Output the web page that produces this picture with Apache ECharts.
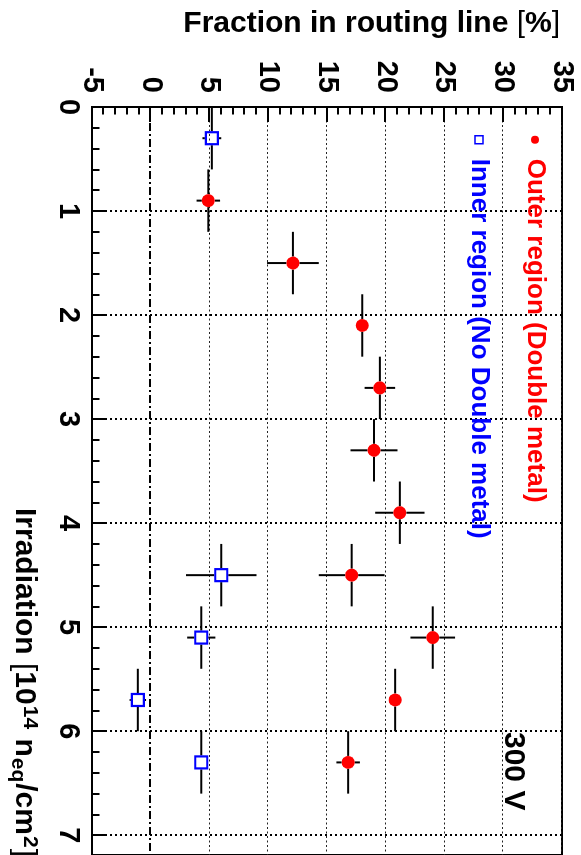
<!DOCTYPE html>
<html>
<head>
<meta charset="utf-8">
<script src="https://cdn.jsdelivr.net/npm/echarts@6/dist/echarts.min.js"></script>
<style>
  html, body { margin: 0; padding: 0; width: 581px; height: 855px; overflow: hidden; background: #fff; }
  /* The plot is laid out landscape and turned a quarter turn clockwise onto the page */
  #chart { position: absolute; left: 0; top: 0; width: 855px; height: 581px;
           transform-origin: 0 0; transform: translate(581px, 0) rotate(90deg); }
</style>
</head>
<body>
<div id="chart"></div>
<script>
// Irradiation fluence [1e14 neq/cm2] and fraction of signal in the routing line [%]
const outerIrr     = [0.9, 1.5, 2.1, 2.7, 3.3, 3.9, 4.5, 5.1, 5.7, 6.3];
const outerIrrErr  = [0.3, 0.3, 0.3, 0.3, 0.3, 0.3, 0.3, 0.3, 0.3, 0.3];
const outerFrac    = [4.9, 12.1, 18.0, 19.5, 19.0, 21.2, 17.1, 24.0, 20.8, 16.8];
const outerFracErr = [1.0, 2.2, 0.4, 1.3, 2.0, 2.1, 2.8, 1.9, 0.4, 1.0];

const innerIrr     = [0.3, 4.5, 5.1, 5.7, 6.3];
const innerIrrErr  = [0.3, 0.3, 0.3, 0.3, 0.3];
const innerFrac    = [5.2, 6.0, 4.3, -1.1, 4.3];
const innerFracErr = [0.8, 3.0, 1.2, 0.7, 0.4];

const irrTicks  = [0, 1, 2, 3, 4, 5, 6, 7];
const fracTicks = [-5, 0, 5, 10, 15, 20, 25, 30, 35];

const outerName = 'Outer region (Double metal)';
const innerName = 'Inner region (No Double metal)';
const voltage = '300 V';

const FONT = '"Liberation Sans", Arial, Helvetica, sans-serif';
const RED = '#ff0000';
const BLUE = '#0000ff';
const TICK = '#000';

// Error bars start at the marker edge so open markers stay empty
function errorSeries(irr, irrErr, frac, fracErr, half) {
  return {
    type: 'custom',
    clip: true,
    z: 3,
    silent: true,
    data: irr.map((x, i) => [x, frac[i], irrErr[i], fracErr[i]]),
    renderItem(params, api) {
      const x = api.value(0), y = api.value(1), ex = api.value(2), ey = api.value(3);
      const c = api.coord([x, y]);
      const l = api.coord([x - ex, y]), r = api.coord([x + ex, y]);
      const t = api.coord([x, y + ey]), b = api.coord([x, y - ey]);
      const style = { stroke: '#000', lineWidth: 2 };
      const kids = [];
      if (c[0] - l[0] > half) kids.push({ type: 'line', shape: { x1: l[0], y1: c[1], x2: c[0] - half, y2: c[1] }, style });
      if (r[0] - c[0] > half) kids.push({ type: 'line', shape: { x1: c[0] + half, y1: c[1], x2: r[0], y2: c[1] }, style });
      if (c[1] - t[1] > half) kids.push({ type: 'line', shape: { x1: c[0], y1: t[1], x2: c[0], y2: c[1] - half }, style });
      if (b[1] - c[1] > half) kids.push({ type: 'line', shape: { x1: c[0], y1: c[1] + half, x2: c[0], y2: b[1] }, style });
      return { type: 'group', children: kids };
    }
  };
}

// split lines: the 0 % line is drawn dash-dotted separately
const fracGridColors = fracTicks.map(v => v === 0 ? 'rgba(0,0,0,0)' : '#222');

const chart = echarts.init(document.getElementById('chart'), null, { renderer: 'canvas' });
chart.setOption({
  backgroundColor: '#fff',
  animation: false,
  grid: {
    left: 107, top: 19, width: 748, height: 470,
    show: true, borderColor: '#000', borderWidth: 2
  },
  xAxis: {
    type: 'value',
    min: irrTicks[0], max: 7.19, interval: 1,
    axisLine: { show: true, onZero: false, lineStyle: { color: '#000', width: 2 } },
    axisTick: { show: true, inside: true, length: 15, lineStyle: { color: TICK, width: 2 } },
    minorTick: { show: true, splitNumber: 5, length: 7.5, lineStyle: { color: TICK, width: 2 } },
    axisLabel: {
      show: true, margin: 9, showMaxLabel: false,
      color: '#000', fontSize: 29, fontWeight: 'bold', fontFamily: FONT,
      formatter: v => irrTicks.includes(v) ? String(v) : ''
    },
    splitLine: { show: true, lineStyle: { color: '#000', width: 2, type: [2, 3] } }
  },
  yAxis: {
    type: 'value',
    min: fracTicks[0], max: fracTicks[fracTicks.length - 1], interval: 5,
    axisLine: { show: true, onZero: false, lineStyle: { color: '#000', width: 2 } },
    axisTick: { show: true, inside: true, length: 15, lineStyle: { color: TICK, width: 2 } },
    minorTick: { show: true, splitNumber: 5, length: 7.5, lineStyle: { color: TICK, width: 2 } },
    axisLabel: {
      show: true, margin: 14,
      color: '#000', fontSize: 29, fontWeight: 'bold', fontFamily: FONT
    },
    splitLine: { show: true, lineStyle: { color: fracGridColors, width: 1, type: [2, 2.5] } }
  },
  legend: {
    orient: 'vertical', left: 135, top: 33, padding: 0,
    itemWidth: 8, itemHeight: 8, itemGap: 30,
    symbolKeepAspect: true,
    selectedMode: false,
    textStyle: { fontSize: 26, fontWeight: 'bold', fontFamily: FONT, padding: [0, 0, 0, 10] },
    data: [
      { name: outerName, icon: 'circle', textStyle: { color: RED }, itemStyle: { color: RED, borderWidth: 0 } },
      { name: innerName, icon: 'rect', textStyle: { color: BLUE },
        itemStyle: { color: 'rgba(0,0,0,0)', borderColor: BLUE, borderWidth: 1.5 } }
    ]
  },
  graphic: [
    {
      type: 'text', x: 24, y: 21, rotation: Math.PI / 2,
      style: {
        text: '{b|Fraction in routing line }{n|[}{b|%}{n|]}',
        align: 'right', verticalAlign: 'middle',
        rich: {
          b: { fontSize: 30, fontWeight: 'bold', fontFamily: FONT, fill: '#000' },
          n: { fontSize: 30, fontWeight: 'normal', fontFamily: FONT, fill: '#000' }
        }
      }
    },
    {
      type: 'text', x: 508, y: 557,
      style: {
        text: '{b|Irradiation }{n|[}{b|10}{sup|14}{b| n}{sub|eq}{b|/cm}{sup|2}{n|]}',
        align: 'left', verticalAlign: 'middle',
        rich: {
          b: { fontSize: 30, fontWeight: 'bold', fontFamily: FONT, fill: '#000' },
          n: { fontSize: 30, fontWeight: 'normal', fontFamily: FONT, fill: '#000' },
          sup: { fontSize: 21, fontWeight: 'bold', fontFamily: FONT, fill: '#000', verticalAlign: 'top', padding: [0, 1, 12, 1] },
          sub: { fontSize: 21, fontWeight: 'bold', fontFamily: FONT, fill: '#000', verticalAlign: 'bottom', padding: [12, 1, 0, 1] }
        }
      }
    },
    {
      type: 'text', x: 732, y: 68,
      style: { text: voltage, align: 'left', verticalAlign: 'middle', fontSize: 30, fontWeight: 'bold', fontFamily: FONT, fill: '#000' }
    }
  ],
  series: [
    errorSeries(outerIrr, outerIrrErr, outerFrac, outerFracErr, 6.5),
    errorSeries(innerIrr, innerIrrErr, innerFrac, innerFracErr, 7),
    {
      name: outerName, type: 'scatter', z: 5, symbol: 'circle', symbolSize: 13,
      itemStyle: { color: RED, opacity: 1 },
      data: outerIrr.map((x, i) => [x, outerFrac[i]]),
      markLine: {
        silent: true, symbol: 'none', label: { show: false },
        lineStyle: { color: '#000', width: 2, type: [8, 3, 2, 3] },
        data: [{ yAxis: 0 }]
      }
    },
    {
      name: innerName, type: 'scatter', z: 5, symbol: 'rect', symbolSize: 12,
      itemStyle: { color: 'rgba(0,0,0,0)', borderColor: BLUE, borderWidth: 2.2, opacity: 1 },
      data: innerIrr.map((x, i) => [x, innerFrac[i]])
    }
  ]
});
</script>
</body>
</html>
